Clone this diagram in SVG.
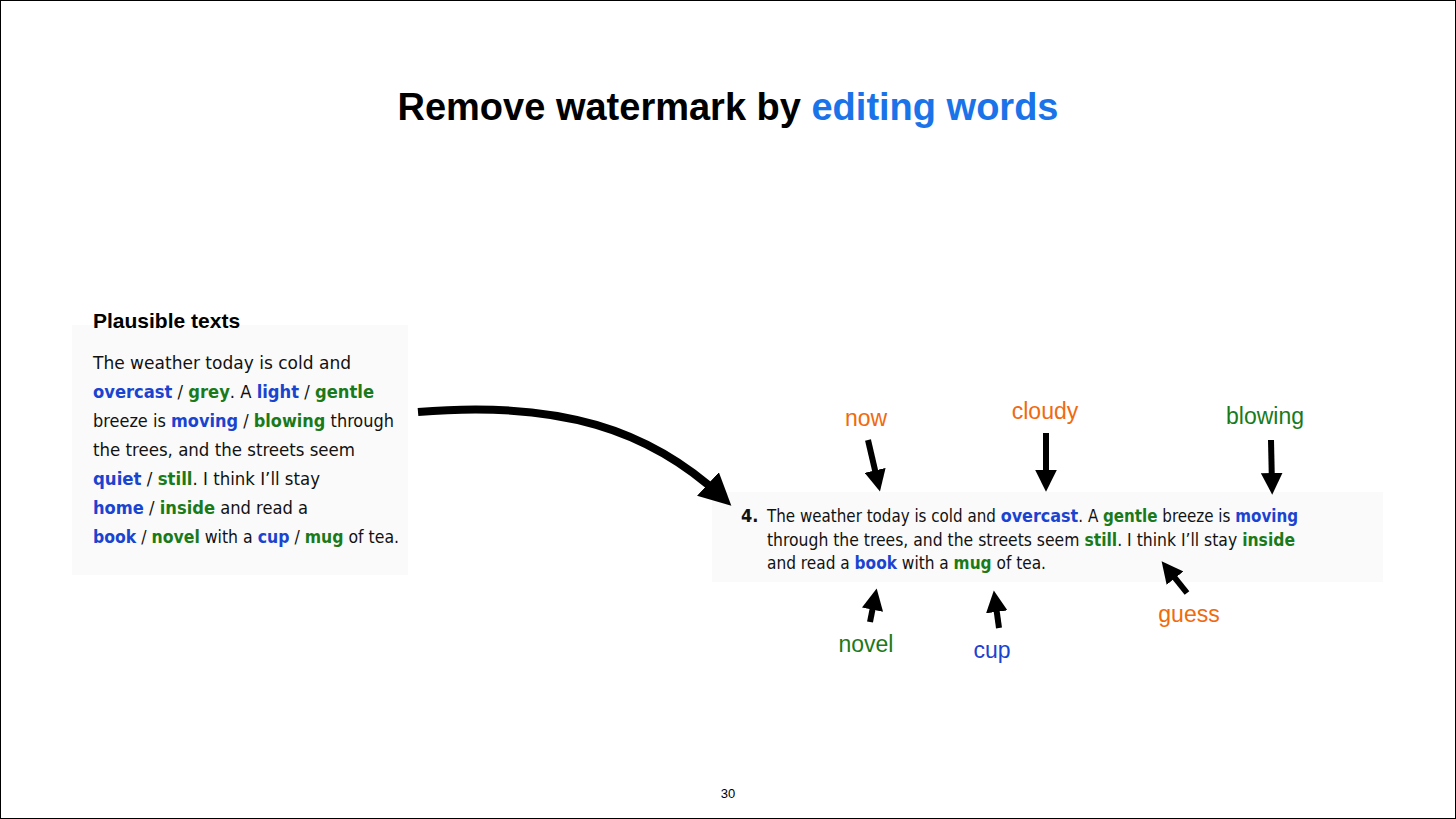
<svg xmlns="http://www.w3.org/2000/svg" width="1456" height="819" viewBox="0 0 1456 819">
<style>
.t{font-family:"DejaVu Sans Condensed","Liberation Sans",sans-serif;fill:#111}
.b{fill:#1a44d0;font-weight:bold}
.g{fill:#1a7a1a;font-weight:bold}
.lbl{font-family:"Liberation Sans",Arial,sans-serif;font-size:23px;text-anchor:middle}
.arr{stroke:#000;stroke-width:6;fill:none;marker-end:url(#h)}
</style>
<defs>
<marker id="h" viewBox="0 0 10 10" refX="6" refY="5" markerWidth="3.6" markerHeight="3.6" orient="auto" markerUnits="strokeWidth"><path d="M0,0L10,5L0,10z" fill="#000"/></marker>
<marker id="h2" viewBox="0 0 10 10" refX="6" refY="5" markerWidth="4" markerHeight="4" orient="auto" markerUnits="strokeWidth"><path d="M0,0L10,5L0,10z" fill="#000"/></marker>
</defs>
<rect x="0.5" y="0.5" width="1455" height="818" fill="#fff" stroke="#000"/>
<text x="728" y="120" text-anchor="middle" font-family="Liberation Sans,Arial,sans-serif" font-size="38" font-weight="bold">Remove watermark by <tspan fill="#1a73e8">editing words</tspan></text>
<g id="plausible">
<rect x="72" y="325" width="336" height="250" fill="#fafafa"/>
<text x="93" y="328" font-family="Liberation Sans,Arial,sans-serif" font-size="21" font-weight="bold">Plausible texts</text>
<g class="t" font-size="18">
<text x="93" y="369" textLength="258" lengthAdjust="spacingAndGlyphs">The weather today is cold and</text>
<text x="93" y="398" textLength="281" lengthAdjust="spacingAndGlyphs"><tspan class="b">overcast</tspan> / <tspan class="g">grey</tspan>. A <tspan class="b">light</tspan> / <tspan class="g">gentle</tspan></text>
<text x="93" y="427" textLength="301" lengthAdjust="spacingAndGlyphs">breeze is <tspan class="b">moving</tspan> / <tspan class="g">blowing</tspan> through</text>
<text x="93" y="456" textLength="262" lengthAdjust="spacingAndGlyphs">the trees, and the streets seem</text>
<text x="93" y="485" textLength="227" lengthAdjust="spacingAndGlyphs"><tspan class="b">quiet</tspan> / <tspan class="g">still</tspan>. I think I’ll stay</text>
<text x="93" y="514" textLength="215" lengthAdjust="spacingAndGlyphs"><tspan class="b">home</tspan> / <tspan class="g">inside</tspan> and read a</text>
<text x="93" y="543" textLength="306" lengthAdjust="spacingAndGlyphs"><tspan class="b">book</tspan> / <tspan class="g">novel</tspan> with a <tspan class="b">cup</tspan> / <tspan class="g">mug</tspan> of tea.</text>
</g>
</g>
<g id="watermarked">
<rect x="712" y="492" width="671" height="90" fill="#fafafa"/>
<g class="t" font-size="17">
<text x="741" y="522" font-weight="bold" font-size="18">4.</text>
<text x="767" y="522" textLength="531" lengthAdjust="spacingAndGlyphs">The weather today is cold and <tspan class="b" font-size="18">overcast</tspan>.  A <tspan class="g">gentle</tspan> breeze is <tspan class="b">moving</tspan></text>
<text x="767" y="546" textLength="528" lengthAdjust="spacingAndGlyphs">through the trees, and the streets seem <tspan class="g">still</tspan>.  I think I’ll stay <tspan class="g">inside</tspan></text>
<text x="767" y="569" textLength="279" lengthAdjust="spacingAndGlyphs">and read a <tspan class="b">book</tspan> with a <tspan class="g">mug</tspan> of tea.</text>
</g>
</g>
<g id="labels">
<text class="lbl" x="866" y="426" fill="#f06a0f">now</text>
<text class="lbl" x="1045" y="419" fill="#f06a0f">cloudy</text>
<text class="lbl" x="1265" y="424" fill="#1a7a1a">blowing</text>
<text class="lbl" x="866" y="652" fill="#1a7a1a">novel</text>
<text class="lbl" x="992" y="658" fill="#1a44d0">cup</text>
<text class="lbl" x="1189" y="622" fill="#f06a0f">guess</text>
</g>
<g id="connectors">
<path d="M418,412 C560,400 650,430 722,497" stroke="#000" stroke-width="8" fill="none" marker-end="url(#h2)"/>
<path class="arr" d="M868,440 L878,483"/>
<path class="arr" d="M1046,433 L1046,483"/>
<path class="arr" d="M1271,440 L1272,486"/>
<path class="arr" d="M870,622 L875,597"/>
<path class="arr" d="M999,628 L995,599"/>
<path class="arr" d="M1187,593 L1167,568"/>
</g>
<text x="728" y="798" text-anchor="middle" font-family="Liberation Sans,Arial,sans-serif" font-size="13">30</text>
</svg>
